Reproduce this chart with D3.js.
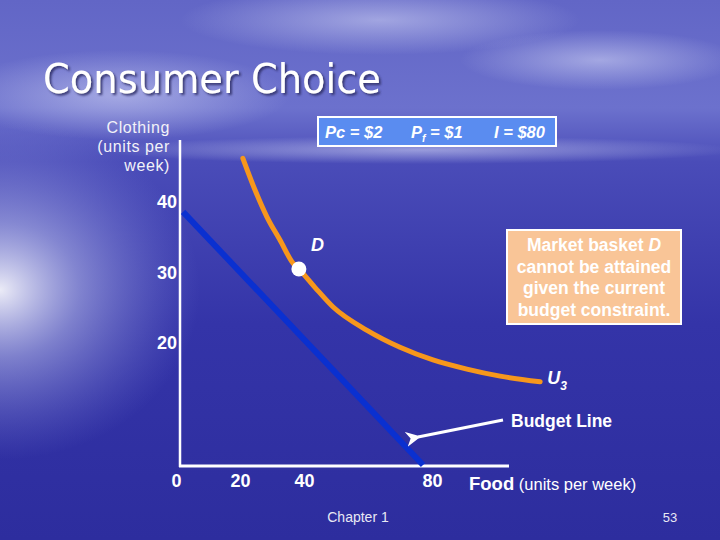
<!DOCTYPE html>
<html>
<head>
<meta charset="utf-8">
<script src="https://cdn.jsdelivr.net/npm/d3@7"></script>
<style>
  body { margin: 0; background: #2f2fa3; }
  svg { display: block; }
  .tick text { font-family: "Liberation Sans", Arial, sans-serif; font-weight: bold; font-size: 18px; fill: #fff; }
</style>
</head>
<body>
<div id="chart"></div>
<script>
var svgWidth = 720;
var svgHeight = 540;

// data
var xTicks = [0, 20, 40, 80];
var yTicks = [20, 30, 40];
var u3Food = [20.9, 24.7, 28.4, 32.5, 36.6, 38.4, 43.4, 49.1, 59.7, 70, 80.3, 90.9, 101.3, 113.8];
var u3Clothing = [46.2, 41.7, 37.9, 34.6, 31.3, 30.5, 27.9, 25.1, 21.8, 19.4, 17.6, 16.3, 15.3, 14.5];
var budgetFood = [2.2, 77.2];
var budgetClothing = [38.6, 2.7];
var pointD = { food: 38.4, clothing: 30.5 };
var priceLabels = ["Pc = $2", "P", "f", " = $1", "I = $80"];
var noteLines = ["Market basket ", "cannot be attained", "given the current", "budget constraint."];

var svg = d3.select("#chart")
  .append("svg")
  .attr("width", svgWidth)
  .attr("height", svgHeight);

// background: sea + sky
var defs = svg.append("defs");
var bg = defs.append("linearGradient").attr("id", "bg").attr("x1", 0).attr("y1", 0).attr("x2", 0).attr("y2", 1);
bg.append("stop").attr("offset", "0%").attr("stop-color", "#6266c6");
bg.append("stop").attr("offset", "20%").attr("stop-color", "#6c71cd");
bg.append("stop").attr("offset", "30%").attr("stop-color", "#4a4cb8");
bg.append("stop").attr("offset", "60%").attr("stop-color", "#3434a8");
bg.append("stop").attr("offset", "100%").attr("stop-color", "#2d2d9e");

var glow = defs.append("radialGradient").attr("id", "glow");
glow.append("stop").attr("offset", "0%").attr("stop-color", "#ffffff").attr("stop-opacity", 0.9);
glow.append("stop").attr("offset", "40%").attr("stop-color", "#c8cdf2").attr("stop-opacity", 0.5);
glow.append("stop").attr("offset", "100%").attr("stop-color", "#8a8fe0").attr("stop-opacity", 0);

var cloud = defs.append("radialGradient").attr("id", "cloud");
cloud.append("stop").attr("offset", "0%").attr("stop-color", "#dfe2fa").attr("stop-opacity", 0.5);
cloud.append("stop").attr("offset", "100%").attr("stop-color", "#dfe2fa").attr("stop-opacity", 0);

defs.append("filter").attr("id", "shadow")
  .append("feDropShadow").attr("dx", 2).attr("dy", 2).attr("stdDeviation", 0.8)
  .attr("flood-color", "#33336a").attr("flood-opacity", 0.9);

svg.append("rect").attr("width", svgWidth).attr("height", svgHeight).attr("fill", "url(#bg)");
svg.append("ellipse").attr("cx", 0).attr("cy", 290).attr("rx", 200).attr("ry", 170).attr("fill", "url(#glow)");
svg.append("ellipse").attr("cx", 380).attr("cy", 20).attr("rx", 200).attr("ry", 35).attr("fill", "url(#cloud)");
svg.append("ellipse").attr("cx", 120).attr("cy", 95).attr("rx", 170).attr("ry", 45).attr("fill", "url(#cloud)");
svg.append("ellipse").attr("cx", 600).attr("cy", 60).attr("rx", 140).attr("ry", 30).attr("fill", "url(#cloud)");
svg.append("ellipse").attr("cx", 420).attr("cy", 150).attr("rx", 320).attr("ry", 14).attr("fill", "url(#cloud)");

// title
svg.append("text")
  .attr("x", 43).attr("y", 93)
  .attr("textLength", 338).attr("lengthAdjust", "spacingAndGlyphs")
  .attr("font-family", "'DejaVu Sans', Verdana, sans-serif")
  .attr("font-size", 40)
  .attr("fill", "#ffffff")
  .attr("filter", "url(#shadow)")
  .text("Consumer Choice");

//scales
var xScale = d3.scaleLinear().domain([0, 80]).range([176, 432]);
var yScale = d3.scaleLinear().domain([20, 40]).range([343, 202]);

// axis lines
svg.append("line").attr("x1", 180).attr("x2", 180).attr("y1", 140).attr("y2", 467)
  .attr("stroke", "#fff").attr("stroke-width", 2.5);
svg.append("line").attr("x1", 179).attr("x2", 509).attr("y1", 466).attr("y2", 466)
  .attr("stroke", "#fff").attr("stroke-width", 3);

var xAxis = d3.axisBottom(xScale).tickValues(xTicks).tickSize(0).tickPadding(8);
var yAxis = d3.axisLeft(yScale).tickValues(yTicks).tickSize(0).tickPadding(3);

svg.append("g").attr("transform", "translate(0, 466)").call(xAxis)
  .call(g => g.select(".domain").remove());
svg.append("g").attr("transform", "translate(180, 0)").call(yAxis)
  .call(g => g.select(".domain").remove());

// y label
var yLab = svg.append("text")
  .attr("font-family", "'Liberation Sans', Arial, sans-serif")
  .attr("font-size", 16).attr("letter-spacing", 0.6)
  .attr("fill", "#f2f2f8").attr("text-anchor", "end");
["Clothing", "(units per", "week)"].forEach(function(t, i) {
  yLab.append("tspan").attr("x", 170).attr("y", 133 + i * 19).text(t);
});

// x label
var xLab = svg.append("text").attr("x", 469).attr("y", 490)
  .attr("font-family", "'Liberation Sans', Arial, sans-serif").attr("fill", "#fff");
xLab.append("tspan").attr("font-weight", "bold").attr("font-size", 18.5).text("Food");
xLab.append("tspan").attr("font-size", 16.5).text(" (units per week)");

// budget line
var line = d3.line().x(d => xScale(d[0])).y(d => yScale(d[1]));
svg.append("path")
  .datum(d3.zip(budgetFood, budgetClothing))
  .attr("d", line)
  .attr("fill", "none").attr("stroke", "#0a30d0").attr("stroke-width", 6);

// indifference curve U3
svg.append("path")
  .datum(d3.zip(u3Food, u3Clothing))
  .attr("d", line.curve(d3.curveMonotoneX))
  .attr("fill", "none").attr("stroke", "#f7971c").attr("stroke-width", 5)
  .attr("stroke-linecap", "round");

// point D
svg.append("circle")
  .attr("cx", xScale(pointD.food)).attr("cy", yScale(pointD.clothing))
  .attr("r", 7.5).attr("fill", "#fff");
svg.append("text")
  .attr("x", xScale(pointD.food) + 12).attr("y", yScale(pointD.clothing) - 18)
  .attr("font-family", "'Liberation Sans', Arial, sans-serif")
  .attr("font-size", 18).attr("font-weight", "bold").attr("font-style", "italic")
  .attr("fill", "#fff").text("D");

// U3 label
var uLab = svg.append("text")
  .attr("x", xScale(u3Food[u3Food.length - 1]) + 7).attr("y", 384)
  .attr("font-family", "'Liberation Sans', Arial, sans-serif")
  .attr("font-weight", "bold").attr("font-style", "italic").attr("fill", "#fff");
uLab.append("tspan").attr("font-size", 18).text("U");
uLab.append("tspan").attr("font-size", 12).attr("dy", 6).text("3");

// price box
svg.append("rect").attr("x", 318).attr("y", 117).attr("width", 238).attr("height", 29)
  .attr("fill", "#5a8cf0").attr("stroke", "#fff").attr("stroke-width", 2);
var price = svg.append("text").attr("y", 138)
  .attr("font-family", "'Liberation Sans', Arial, sans-serif")
  .attr("font-size", 16.5).attr("font-weight", "bold").attr("font-style", "italic").attr("fill", "#fff");
price.append("tspan").attr("x", 325).text(priceLabels[0]);
price.append("tspan").attr("x", 411).text(priceLabels[1]);
price.append("tspan").attr("font-size", 10.5).attr("dy", 4).text(priceLabels[2]);
price.append("tspan").attr("dy", -4).text(priceLabels[3]);
price.append("tspan").attr("x", 494).text(priceLabels[4]);

// note box
svg.append("rect").attr("x", 507).attr("y", 230).attr("width", 174).attr("height", 94)
  .attr("fill", "#f9c597").attr("stroke", "#fff").attr("stroke-width", 2);
var note = svg.append("text").attr("text-anchor", "middle")
  .attr("font-family", "'Liberation Sans', Arial, sans-serif")
  .attr("font-size", 17.5).attr("font-weight", "bold").attr("fill", "#fff");
noteLines.forEach(function(t, i) {
  var ts = note.append("tspan").attr("x", 594).attr("y", 251 + i * 21.5).text(t);
  if (i == 0) ts.append("tspan").attr("font-style", "italic").text("D");
});

// budget line arrow
defs.append("marker").attr("id", "arrow")
  .attr("viewBox", "0 0 10 10").attr("refX", 2).attr("refY", 5)
  .attr("markerWidth", 5).attr("markerHeight", 5).attr("orient", "auto")
  .append("path").attr("d", "M0,5 L10,0 L7,5 L10,10 Z").attr("fill", "#fff");
svg.append("line").attr("x1", 503).attr("y1", 420).attr("x2", 418).attr("y2", 437)
  .attr("stroke", "#fff").attr("stroke-width", 3).attr("marker-end", "url(#arrow)");
svg.append("text").attr("x", 511).attr("y", 427)
  .attr("font-family", "'Liberation Sans', Arial, sans-serif")
  .attr("font-size", 17.5).attr("font-weight", "bold").attr("fill", "#fff").text("Budget Line");

// footer
svg.append("text").attr("x", 358).attr("y", 522).attr("text-anchor", "middle")
  .attr("font-family", "'Liberation Sans', Arial, sans-serif")
  .attr("font-size", 14).attr("fill", "#e8e8f4").text("Chapter 1");
svg.append("text").attr("x", 670).attr("y", 522).attr("text-anchor", "middle")
  .attr("font-family", "'Liberation Sans', Arial, sans-serif")
  .attr("font-size", 13).attr("fill", "#e8e8f4").text("53");
</script>
</body>
</html>
